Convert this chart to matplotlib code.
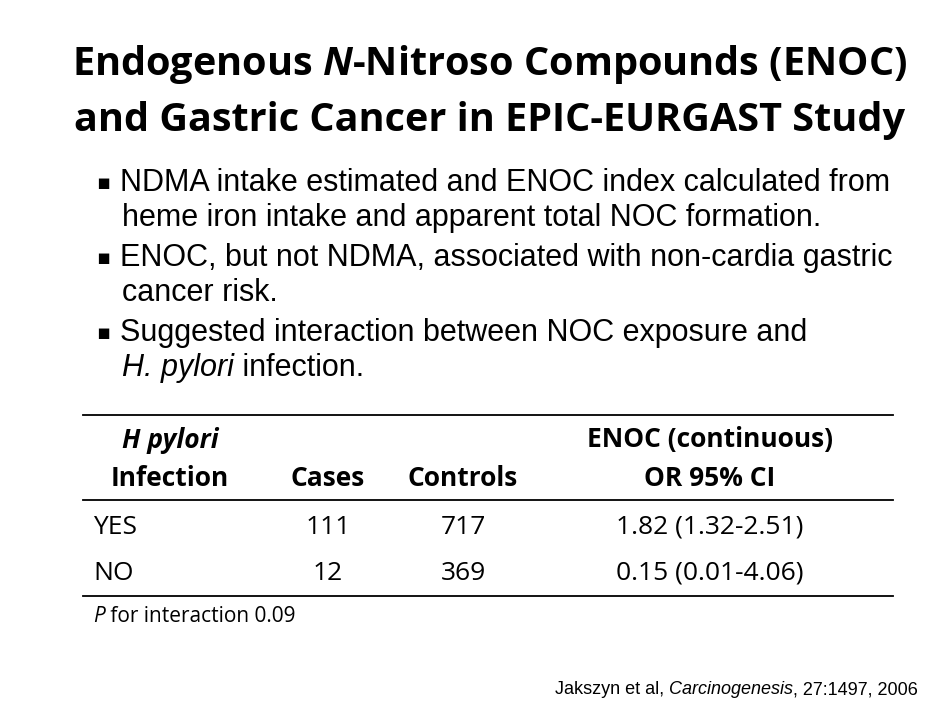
import matplotlib.pyplot as plt

W, H = 950, 712

title_lines = ["Endogenous $\\bfit{N}$-Nitroso Compounds (ENOC)",
               "and Gastric Cancer in EPIC-EURGAST Study"]
bullets = [
    ["NDMA intake estimated and ENOC index calculated from",
     "heme iron intake and apparent total NOC formation."],
    ["ENOC, but not NDMA, associated with non-cardia gastric",
     "cancer risk."],
    ["Suggested interaction between NOC exposure and",
     None],
]
row_labels = ["YES", "NO"]
cases = [111, 12]
controls = [717, 369]
or_ci = ["1.82 (1.32-2.51)", "0.15 (0.01-4.06)"]

fig = plt.figure(figsize=(9.5, 7.12), dpi=100)
fig.patch.set_facecolor("white")
ax = fig.add_axes([0, 0, 1, 1])
ax.set_xlim(0, W)
ax.set_ylim(H, 0)
ax.axis("off")
renderer = fig.canvas.get_renderer()

tfont = "Open Sans"
plt.rcParams["mathtext.fontset"] = "custom"
plt.rcParams["mathtext.bfit"] = "Open Sans:bold:italic"

for i, line in enumerate(title_lines):
    ax.text(490, 65 + 55 * i, line, ha="center", va="center", fontsize=28.5,
            fontweight="bold", family=tfont)


def pair(x, y, a, b, size, fam, **kw):
    # italic part followed by normal part
    t = ax.text(x, y, a, ha="left", va="center", fontsize=size, family=fam,
                style="italic", **kw)
    w = t.get_window_extent(renderer).width
    ax.text(x + w, y, b, ha="left", va="center", fontsize=size, family=fam, **kw)


# bullets
y = 183
for b in bullets:
    ax.text(103, y, "\u25aa", ha="center", va="center", fontsize=15,
            family="DejaVu Sans")
    for j, line in enumerate(b):
        if line is None:
            pair(122, y, "H. pylori", " infection.", 22, "Liberation Sans")
        else:
            ax.text(120 if j == 0 else 122, y, line, ha="left", va="center",
                    fontsize=22, family="Liberation Sans")
        y += 35
    y += 5

# table
for yl in [415, 500, 596]:
    ax.plot([83, 893], [yl, yl], color="black", lw=1.3)
ax.text(170, 440, "H pylori", ha="center", va="center", fontsize=19,
        fontweight="bold", style="italic", family=tfont)
hdr = [(170, 478, "Infection"), (328, 478, "Cases"), (463, 478, "Controls"),
       (710, 440, "ENOC (continuous)"), (710, 478, "OR 95% CI")]
for x, yy, s in hdr:
    ax.text(x, yy, s, ha="center", va="center", fontsize=19,
            fontweight="bold", family=tfont)
for k, yy in enumerate([527, 573]):
    ax.text(93, yy, row_labels[k], ha="left", va="center", fontsize=19, family=tfont)
    ax.text(328, yy, str(cases[k]), ha="center", va="center", fontsize=19, family=tfont)
    ax.text(463, yy, str(controls[k]), ha="center", va="center", fontsize=19, family=tfont)
    ax.text(710, yy, or_ci[k], ha="center", va="center", fontsize=19, family=tfont)

pair(93, 616, "P", " for interaction 0.09", 15, tfont)

t = ax.text(918, 690, ", 27:1497, 2006", ha="right", va="center", fontsize=13,
            family="Liberation Sans")
x1 = 918 - t.get_window_extent(renderer).width
t = ax.text(x1, 690, "Carcinogenesis", ha="right", va="center", fontsize=13,
            family="Liberation Sans", style="italic")
x2 = x1 - t.get_window_extent(renderer).width
ax.text(x2, 690, "Jakszyn et al, ", ha="right", va="center", fontsize=13,
        family="Liberation Sans")

fig.savefig("out.png", dpi=100)
